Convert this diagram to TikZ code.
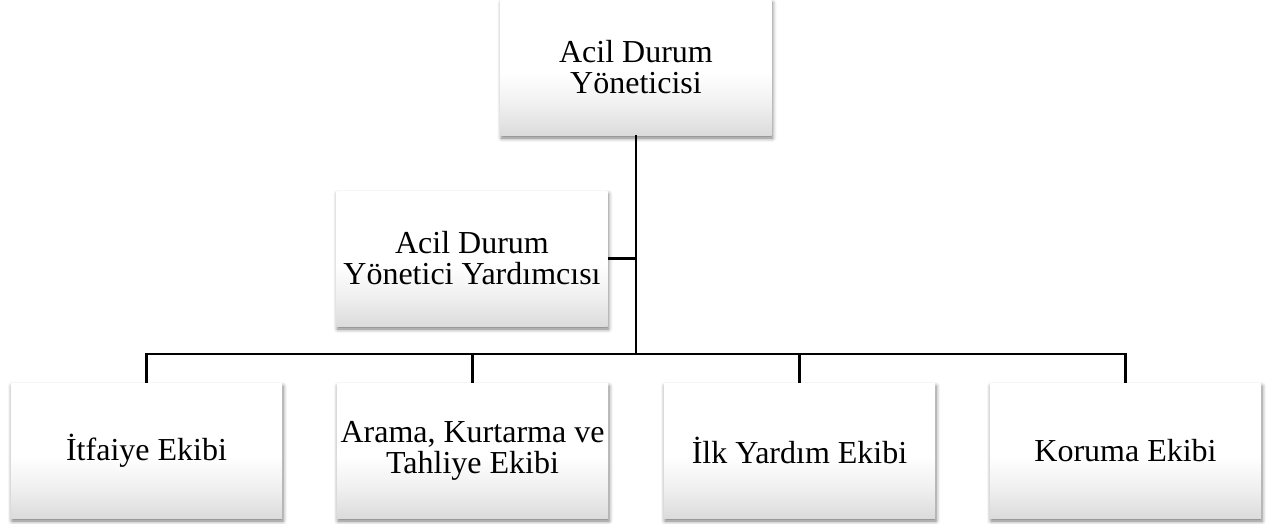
\documentclass[tikz,border=0pt]{standalone}
\usepackage{fontspec}
\setmainfont{Liberation Serif}
\usetikzlibrary{shadows.blur}
\pgfdeclareverticalshading{boxshade}{100bp}{color(0bp)=(black!14); color(25bp)=(black!14); color(36bp)=(black!6); color(48bp)=(white); color(100bp)=(white)}
\tikzset{
  orgbox/.style={rectangle, minimum width=271pt, minimum height=135pt, inner sep=0pt,
    shading=boxshade, align=center, font=\fontsize{32}{31}\selectfont,
    blur shadow={shadow xshift=1pt, shadow yshift=-3pt, shadow blur radius=4pt, shadow opacity=55}},
  link/.style={draw=black, line width=2.6pt}
}
\begin{document}
\begin{tikzpicture}[x=1pt,y=-1pt]
\useasboundingbox (0,0) rectangle (1268,524);
\node[orgbox] (top) at (636,67.5) {Acil Durum\\Yöneticisi};
\node[orgbox] (mid) at (472,258.5) {Acil Durum\\Yönetici Yardımcısı};
\node[orgbox] (b1) at (146.5,450.5) {İtfaiye Ekibi};
\node[orgbox] (b2) at (472.5,450.5) {Arama, Kurtarma ve\\Tahliye Ekibi};
\node[orgbox] (b3) at (799.5,450.5) {İlk Yardım Ekibi};
\node[orgbox] (b4) at (1125.5,450.5) {Koruma Ekibi};
\coordinate (bus) at (636,354);
\draw[link] (top.south) -- (bus);
\draw[link] (mid.east) -- (mid.east -| top.south);
\draw[link] (b1.north) |- (bus) -| (b4.north);
\draw[link] (b2.north) -- (b2.north |- bus);
\draw[link] (b3.north) -- (b3.north |- bus);
\end{tikzpicture}
\end{document}
